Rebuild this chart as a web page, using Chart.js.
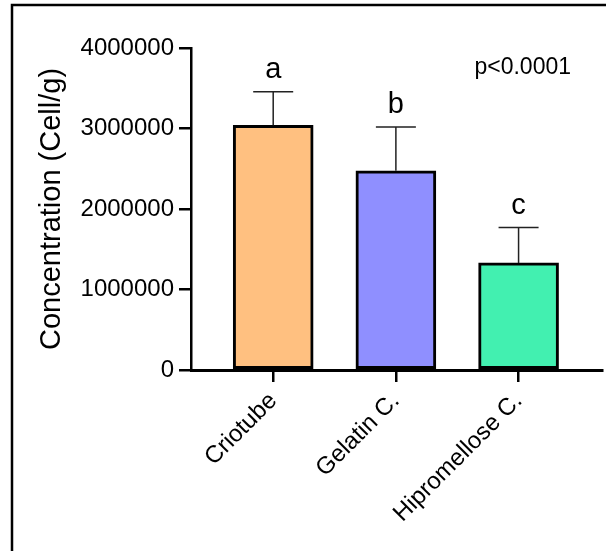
<!DOCTYPE html>
<html>
<head>
<meta charset="utf-8">
<script src="https://cdn.jsdelivr.net/npm/chart.js@4"></script>
<style>
  html, body { margin: 0; padding: 0; background: #fff; }
  #wrap { width: 606px; height: 551px; position: relative; }
</style>
</head>
<body>
<div id="wrap"><canvas id="chart" width="606" height="551"></canvas></div>
<script>
// Chart data
const categories = ['Criotube', 'Gelatin C.', 'Hipromellose C.'];
const means = [3040000, 2475000, 1330000];
const sds = [415000, 545000, 440000];
const letters = ['a', 'b', 'c'];
const barColors = ['#FFC080', '#8F8FFF', '#42F0B0'];
const yTicks = [0, 1000000, 2000000, 3000000, 4000000];
const pLabel = 'p<0.0001';

const FONT = '"Liberation Sans", Arial, Helvetica, sans-serif';

// Frame, error bars and letters
const extrasPlugin = {
    id: 'extras',
    beforeDraw(chart) {
        const ctx = chart.ctx;
        ctx.save();
        ctx.strokeStyle = '#000';
        ctx.lineWidth = 2.5;
        ctx.beginPath();
        ctx.moveTo(12, chart.height);
        ctx.lineTo(12, 5);
        ctx.lineTo(chart.width, 5);
        ctx.stroke();
        ctx.restore();
    },
    afterDatasetsDraw(chart) {
        const ctx = chart.ctx;
        const x = chart.scales.x;
        const y = chart.scales.y;
        ctx.save();
        means.forEach((m, i) => {
            const cx = x.getPixelForValue(i + 1);
            const top = y.getPixelForValue(m);
            const errTop = y.getPixelForValue(m + sds[i]);
            ctx.strokeStyle = '#222';
            ctx.lineWidth = 1.5;
            ctx.beginPath();
            ctx.moveTo(cx, top);
            ctx.lineTo(cx, errTop);
            ctx.moveTo(cx - 20, errTop);
            ctx.lineTo(cx + 20, errTop);
            ctx.stroke();

            ctx.fillStyle = '#000';
            ctx.font = '29px ' + FONT;
            ctx.textAlign = 'center';
            ctx.textBaseline = 'alphabetic';
            ctx.fillText(letters[i], cx, errTop - 14);
        });
        ctx.font = '23px ' + FONT;
        ctx.textAlign = 'right';
        ctx.fillStyle = '#000';
        ctx.fillText(pLabel, chart.chartArea.right - 31, chart.chartArea.top + 26);
        ctx.restore();
    }
};

new Chart(document.getElementById('chart'), {
    type: 'bar',
    data: {
        datasets: [{
            data: means.map((m, i) => ({ x: i + 1, y: m })),
            backgroundColor: barColors,
            borderColor: '#000',
            borderWidth: 3,
            borderSkipped: false,
            barThickness: 80
        }]
    },
    options: {
        responsive: false,
        animation: false,
        layout: { padding: { left: 20, right: 4, top: 48, bottom: 0 } },
        plugins: {
            legend: { display: false },
            tooltip: { enabled: false }
        },
        scales: {
            x: {
                type: 'linear',
                bounds: 'data',
                offset: false,
                min: 0.33,
                max: 3.68,
                afterBuildTicks: scale => {
                    scale.ticks = categories.map((c, i) => ({ value: i + 1 }));
                },
                afterFit: scale => { scale.height = 181; },
                ticks: {
                    autoSkip: false,
                    minRotation: 45,
                    maxRotation: 45,
                    padding: 5,
                    color: '#000',
                    font: { family: FONT, size: 24 },
                    callback: v => categories[v - 1] || ''
                },
                grid: {
                    offset: false,
                    drawOnChartArea: false,
                    drawTicks: true,
                    tickLength: 12,
                    lineWidth: 2.5,
                    color: '#000'
                },
                border: { display: true, color: '#000', width: 3 }
            },
            y: {
                min: 0,
                max: 4000000,
                afterBuildTicks: scale => {
                    scale.ticks = yTicks.map(v => ({ value: v }));
                },
                afterFit: scale => { scale.width = 171; },
                ticks: {
                    padding: 5,
                    color: '#000',
                    font: { family: FONT, size: 24 },
                    callback: v => String(v)
                },
                grid: {
                    drawOnChartArea: false,
                    drawTicks: true,
                    tickLength: 12,
                    lineWidth: 2.5,
                    color: '#000'
                },
                border: { display: true, color: '#000', width: 2.5 },
                title: {
                    display: true,
                    text: 'Concentration (Cell/g)',
                    color: '#000',
                    font: { family: FONT, size: 29 },
                    padding: { top: 15, bottom: 4 }
                }
            }
        }
    },
    plugins: [extrasPlugin]
});
</script>
</body>
</html>
